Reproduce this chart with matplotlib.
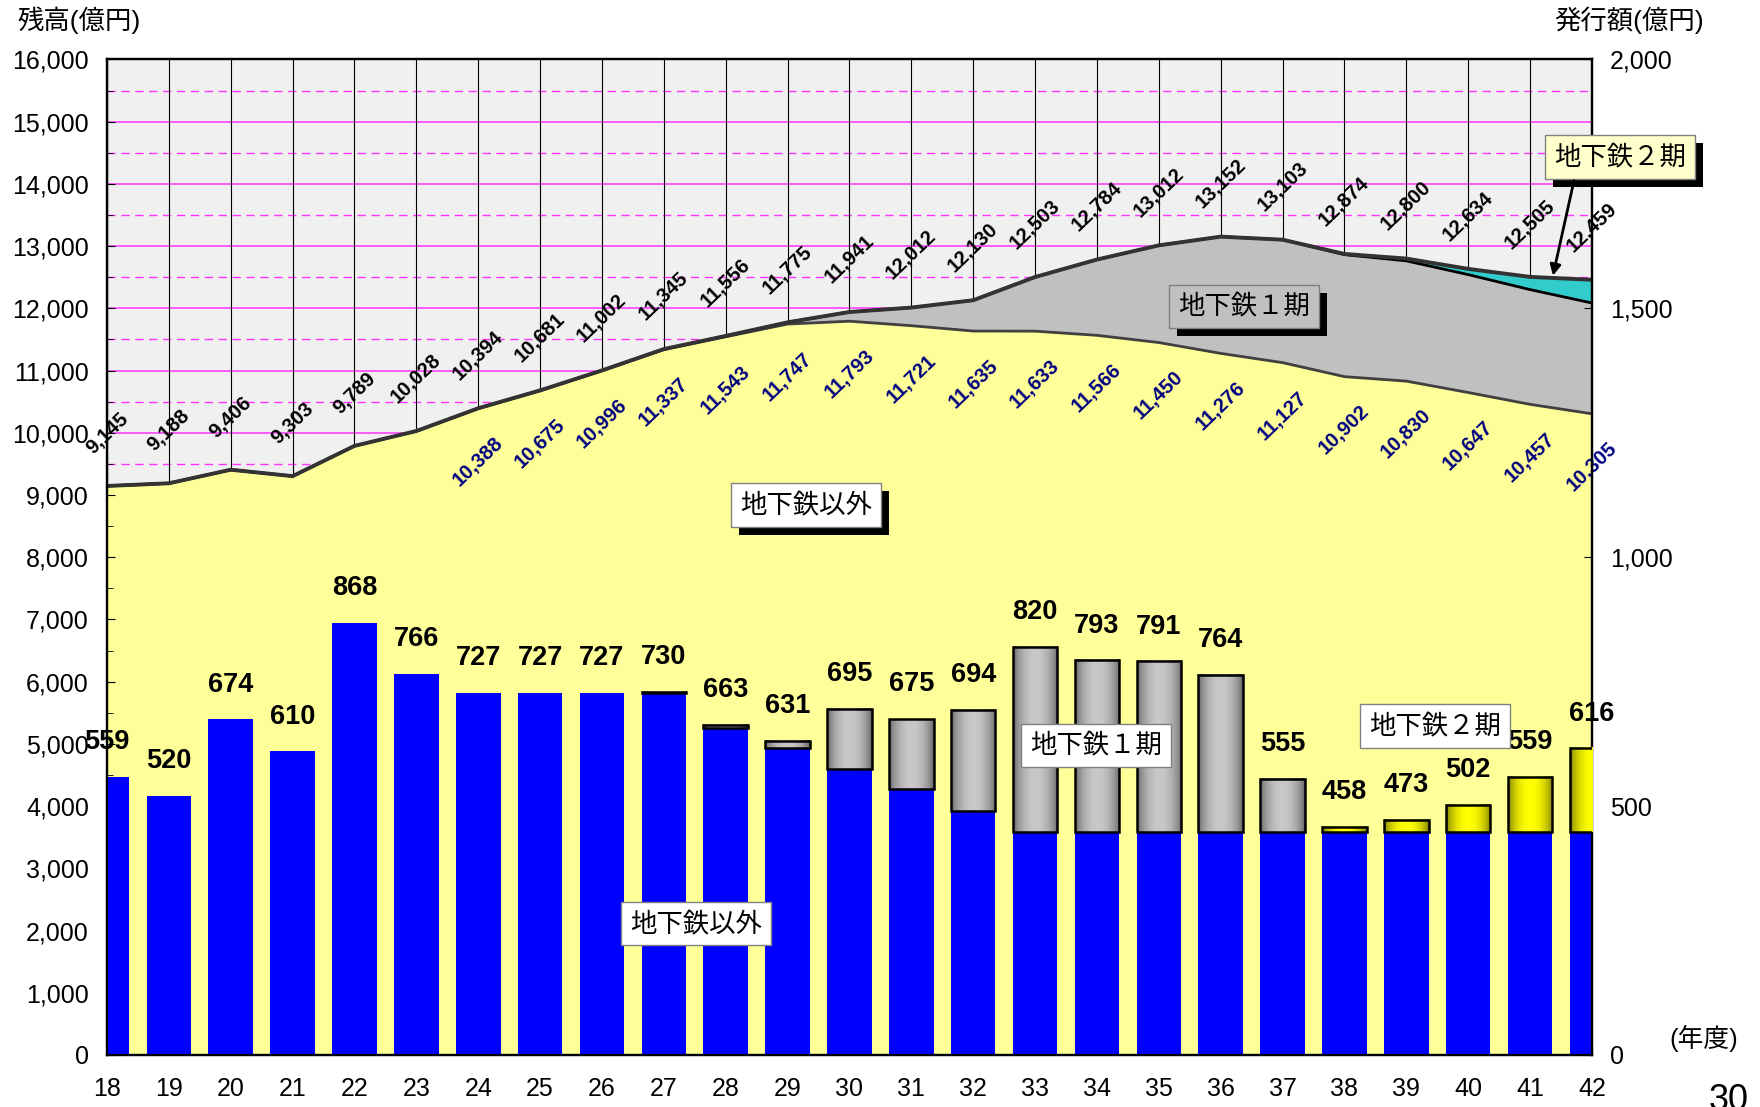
import numpy as np
import matplotlib.pyplot as plt
from matplotlib.patches import Rectangle
from matplotlib.colors import LinearSegmentedColormap
from matplotlib.transforms import IdentityTransform

plt.rcParams['font.family'] = ['Liberation Sans', 'Noto Sans CJK JP']

# fiscal years (Heisei)
years = list(range(18, 43))

# balance (left axis, 億円)
total_bal = [9145, 9188, 9406, 9303, 9789, 10028, 10394, 10681, 11002, 11345, 11556, 11775,
             11941, 12012, 12130, 12503, 12784, 13012, 13152, 13103, 12874, 12800, 12634, 12505, 12459]
other_bal = [9145, 9188, 9406, 9303, 9789, 10028, 10388, 10675, 10996, 11337, 11543, 11747,
             11793, 11721, 11635, 11633, 11566, 11450, 11276, 11127, 10902, 10830, 10647, 10457, 10305]
sub2_bal = [0] * 20 + [11, 37, 92, 204, 373]

# issuance (right axis, 億円)
other_iss = [559, 520, 674, 610, 868, 766, 727, 727, 727, 727, 656, 616, 574, 535, 490,
             447, 447, 447, 447, 447, 447, 447, 447, 447, 447]
sub1_iss = [0, 0, 0, 0, 0, 0, 0, 0, 0, 3, 7, 15, 121, 140, 204, 373, 346, 344, 317, 108,
            0, 0, 0, 0, 0]
sub2_iss = [0] * 20 + [11, 26, 55, 112, 169]

x = np.arange(len(years))
total_bal = np.array(total_bal)
other_bal = np.array(other_bal)
upper1 = total_bal - np.array(sub2_bal)
iss_total = np.array(other_iss) + np.array(sub1_iss) + np.array(sub2_iss)

fig = plt.figure(figsize=(17.6, 11.07), dpi=100)
ax = fig.add_axes([0.0608, 0.047, 0.8437, 0.8993])
ax.set_facecolor('#F0F0F0')

# grid
for v in range(500, 16000, 500):
    if v % 1000 == 0:
        ax.axhline(v, color='#FF33FF', lw=1.1, zorder=0.5)
    else:
        ax.axhline(v, color='#FF33FF', lw=1.0, ls=(0, (6, 4)), zorder=0.5)
for xi in x:
    ax.axvline(xi, color='black', lw=0.8, zorder=0.6)

# stacked balance areas
ax.fill_between(x, 0, other_bal, color='#FFFF99', lw=0, zorder=1)
ax.fill_between(x, other_bal, upper1, color='#C0C0C0', lw=0, zorder=1)
ax.fill_between(x, upper1, total_bal, color='#33CCCC', lw=0, zorder=1)
ax.plot(x, other_bal, color='#404040', lw=2, zorder=2)
ax.plot(x, upper1, color='black', lw=2, zorder=2)
ax.plot(x, total_bal, color='#333333', lw=2.8, zorder=2)

for xi, v in zip(x, total_bal):
    ax.annotate(f'{v:,}', (xi, v), xytext=(0, 38), textcoords='offset points',
                ha='center', va='center', rotation=44, fontsize=14.5, fontweight='bold',
                color='black', zorder=5)
for xi, v in zip(x[6:], other_bal[6:]):
    ax.annotate(f'{v:,}', (xi, v), xytext=(0, -38), textcoords='offset points',
                ha='center', va='center', rotation=44, fontsize=14.5, fontweight='bold',
                color='#000080', zorder=5)

ax.set_xlim(0, 24)
ax.set_ylim(0, 16000)
ax.set_yticks(range(0, 16001, 1000))
ax.set_yticks(range(500, 16000, 1000), minor=True)
ax.set_yticklabels([f'{v:,}' for v in range(0, 16001, 1000)])
ax.set_xticks(x)
ax.set_xticklabels([str(y) for y in years])
ax.tick_params(axis='y', which='both', direction='in', labelsize=18, pad=13, length=6)
ax.tick_params(axis='y', which='minor', length=4)
ax.tick_params(axis='x', direction='in', labelsize=18, pad=16, length=6)

# issuance bars
ax2 = ax.twinx()
w = 0.72
ax2.bar(x, other_iss, width=w, color='#0000FF', lw=0, zorder=2)

grad = np.sin(np.pi * np.linspace(0, 1, 80)) ** 0.6
grad = grad[None, :]
gray_cmap = LinearSegmentedColormap.from_list('g', ['#5A5A5A', '#C8C8C8'])
yel_cmap = LinearSegmentedColormap.from_list('y', ['#6E6E00', '#FFFF00'])


def shaded_bar(xc, bottom, height, cmap):
    if height <= 0:
        return
    ax2.imshow(grad, extent=(xc - w / 2, xc + w / 2, bottom, bottom + height),
               aspect='auto', cmap=cmap, vmin=0, vmax=1, zorder=3, interpolation='bilinear')
    ax2.add_patch(Rectangle((xc - w / 2, bottom), w, height, fc='none', ec='black',
                            lw=1.8, zorder=4))


for i in x:
    shaded_bar(i, other_iss[i], sub1_iss[i], gray_cmap)
    shaded_bar(i, other_iss[i] + sub1_iss[i], sub2_iss[i], yel_cmap)

for xi, v in zip(x, iss_total):
    ax2.annotate(str(v), (xi, v), xytext=(0, 25), textcoords='offset points',
                 ha='center', va='center', fontsize=19.5, fontweight='bold', zorder=6)

ax2.set_xlim(0, 24)
ax2.set_ylim(0, 2000)
ax2.set_yticks([0, 500, 1000, 1500, 2000])
ax2.set_yticklabels(['0', '500', '1,000', '1,500', '2,000'])
ax2.tick_params(axis='y', direction='in', labelsize=18, pad=13, length=6)

for a in (ax, ax2):
    for s in a.spines.values():
        s.set_linewidth(1.6)
        s.set_color('black')

shadow_boxes = []


def label_box(x0, y0, s, fc, shadow=True, size=19):
    t = ax2.text(x0, y0, s, ha='center', va='center', fontsize=size, zorder=8,
                 bbox=dict(boxstyle='square,pad=0.35', fc=fc, ec='#808080', lw=1))
    if shadow:
        shadow_boxes.append(t)


label_box(11.3, 1105, '地下鉄以外', 'white')
label_box(18.38, 1504, '地下鉄１期', '#C0C0C0')
label_box(24.45, 1804, '地下鉄２期', '#FFFFCC')
ax2.annotate('', xy=(23.36, 1560), xytext=(23.72, 1762),
             arrowprops=dict(arrowstyle='-|>', color='black', lw=2, mutation_scale=16), zorder=9)
label_box(9.52, 264, '地下鉄以外', 'white', shadow=False)
label_box(15.98, 622, '地下鉄１期', 'white', shadow=False)
label_box(21.46, 661, '地下鉄２期', 'white', shadow=False)

fig.text(0.0097, 0.982, '残高(億円)', fontsize=19, ha='left', va='center')
fig.text(0.968, 0.982, '発行額(億円)', fontsize=19, ha='right', va='center')
fig.text(0.968, 0.062, '(年度)', fontsize=18.5, ha='center', va='center')
fig.text(0.982, 0.022, '30', fontsize=26, ha='center', va='top')

# black drop shadows behind the area labels
fig.canvas.draw()
renderer = fig.canvas.get_renderer()
for t in shadow_boxes:
    bb = t.get_bbox_patch().get_window_extent(renderer)
    ax2.add_patch(Rectangle((bb.x0 + 8, bb.y0 - 8), bb.width, bb.height, fc='black',
                            ec='none', transform=IdentityTransform(), zorder=7,
                            clip_on=False))

fig.savefig('out.png', dpi=100)
